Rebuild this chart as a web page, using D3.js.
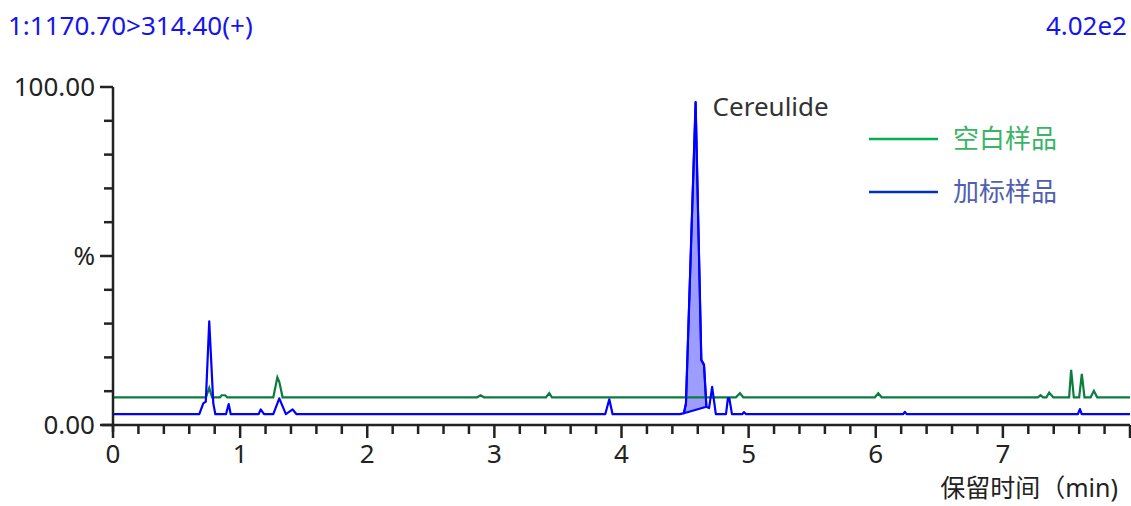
<!DOCTYPE html>
<html>
<head>
<meta charset="utf-8">
<script src="https://cdn.jsdelivr.net/npm/d3@7"></script>
<style>
  html, body { margin: 0; padding: 0; background: #fff; }
  svg text { font-family: "Noto Sans", "Noto Sans CJK SC", sans-serif; }
</style>
</head>
<body>
<div id="chart"></div>
<script>
// chromatogram traces, [time (min), relative intensity (%)]
const blankSample = [
  [0, 8.2], [0.731, 8.2], [0.757, 11.0], [0.779, 8.2], [0.842, 8.2], [0.855, 8.8],
  [0.881, 8.8], [0.899, 8.2], [1.261, 8.2], [1.293, 14.1], [1.308, 12.8], [1.334, 8.2],
  [2.865, 8.2], [2.892, 8.8], [2.918, 8.2], [3.406, 8.2], [3.432, 9.4], [3.453, 8.2],
  [4.900, 8.2], [4.932, 9.4], [4.958, 8.2], [5.993, 8.2], [6.020, 9.4], [6.046, 8.2],
  [7.275, 8.2], [7.296, 8.8], [7.317, 8.2], [7.343, 8.2], [7.364, 9.6], [7.396, 8.2],
  [7.521, 8.2], [7.537, 16.3], [7.558, 8.2], [7.600, 8.2], [7.621, 15.1], [7.642, 8.2],
  [7.690, 8.2], [7.716, 10.1], [7.742, 8.2], [8, 8.2]
];
const spikedSample = [
  [0, 3.2], [0.679, 3.2], [0.710, 6.4], [0.730, 6.9], [0.757, 30.7], [0.789, 6.4],
  [0.805, 3.2], [0.889, 3.2], [0.910, 6.2], [0.926, 3.2], [1.146, 3.2], [1.162, 4.6],
  [1.188, 3.2], [1.261, 3.2], [1.308, 7.9], [1.360, 3.2], [1.413, 4.6], [1.444, 3.2],
  [3.872, 3.2], [3.904, 7.6], [3.930, 3.2], [4.460, 3.2], [4.491, 3.5], [4.507, 6.4],
  [4.583, 95.5], [4.628, 19.2], [4.649, 17.8], [4.668, 5.4], [4.689, 5.0], [4.713, 11.3],
  [4.742, 3.2], [4.822, 3.2], [4.837, 7.9], [4.848, 7.9], [4.869, 3.2], [4.950, 3.2],
  [4.963, 3.8], [4.980, 3.2], [6.216, 3.2], [6.229, 3.9], [6.243, 3.2], [7.590, 3.2],
  [7.606, 4.7], [7.620, 3.2], [8, 3.2]
];
// integrated peak window (min)
const peakWindow = [4.491, 4.668];
const peakName = "Cereulide";

const seriesNames = ["空白样品", "加标样品"];
const xTickValues = [0, 1, 2, 3, 4, 5, 6, 7];
const yTickLabels = [[0, "0.00"], [50, "%"], [100, "100.00"]];
const titleLeft = "1:1170.70>314.40(+)";
const titleRight = "4.02e2";
const xAxisTitle = "保留时间（min)";

const width = 1131, height = 506;
const plot = {left: 113, right: 1130, top: 87, bottom: 425};
const axisColor = "#222";
const greenLine = "#0a7d3e", blueLine = "#0000ff";
const fontSize = "26px";

const svg = d3.select("#chart").append("svg")
  .attr("width", width)
  .attr("height", height);

const x = d3.scaleLinear().domain([0, 8]).range([plot.left, plot.right]);
const y = d3.scaleLinear().domain([0, 100]).range([plot.bottom, plot.top]);

// header
svg.append("text")
  .attr("x", 8).attr("y", 35)
  .attr("fill", "#1414f0")
  .style("font-size", fontSize)
  .text(titleLeft);

svg.append("text")
  .attr("x", 1127).attr("y", 35)
  .attr("text-anchor", "end")
  .attr("fill", "#1414f0")
  .style("font-size", fontSize)
  .text(titleRight);

// traces
const line = d3.line().x(d => x(d[0])).y(d => y(d[1]));

const peakPts = spikedSample.filter(d => d[0] >= peakWindow[0] && d[0] <= peakWindow[1]);
svg.append("path")
  .attr("d", line(peakPts) + "Z")
  .attr("fill", "#9d9dff")
  .attr("stroke", blueLine)
  .attr("stroke-width", 2)
  .attr("stroke-linejoin", "round");

svg.append("path")
  .datum(blankSample)
  .attr("d", line)
  .attr("fill", "none")
  .attr("stroke", greenLine)
  .attr("stroke-width", 2.2);

svg.append("path")
  .datum(spikedSample)
  .attr("d", line)
  .attr("fill", "none")
  .attr("stroke", blueLine)
  .attr("stroke-width", 2.2)
  .attr("stroke-linejoin", "round");

// peak label
const apex = d3.greatest(peakPts, d => d[1]);
svg.append("text")
  .attr("x", x(apex[0]) + 17)
  .attr("y", y(apex[1]) + 14)
  .attr("fill", "#333")
  .style("font-size", fontSize)
  .text(peakName);

// axes
const axes = svg.append("g");
axes.append("line")
  .attr("x1", plot.left).attr("x2", plot.left)
  .attr("y1", plot.top).attr("y2", plot.bottom + 7)
  .attr("stroke", axisColor).attr("stroke-width", 2.5);
axes.append("line")
  .attr("x1", plot.left - 11).attr("x2", plot.right)
  .attr("y1", plot.bottom).attr("y2", plot.bottom)
  .attr("stroke", axisColor).attr("stroke-width", 2.5);

// x ticks
const xMinor = d3.range(0, 8.001, 0.2);
axes.selectAll(".xtick")
  .data(xMinor)
  .enter().append("line")
  .attr("class", "xtick")
  .attr("x1", d => x(d)).attr("x2", d => x(d))
  .attr("y1", plot.bottom)
  .attr("y2", d => Math.abs(d - Math.round(d)) < 1e-6 ? plot.bottom + 13 : plot.bottom + 9)
  .attr("stroke", axisColor).attr("stroke-width", 2.5);

axes.selectAll(".xlabel")
  .data(xTickValues)
  .enter().append("text")
  .attr("class", "xlabel")
  .attr("x", d => x(d))
  .attr("y", 463)
  .attr("text-anchor", "middle")
  .attr("fill", axisColor)
  .style("font-size", fontSize)
  .text(d => d);

// y ticks
const yMinor = d3.range(0, 100.001, 10);
axes.selectAll(".ytick")
  .data(yMinor)
  .enter().append("line")
  .attr("class", "ytick")
  .attr("y1", d => y(d)).attr("y2", d => y(d))
  .attr("x1", d => d % 50 === 0 ? plot.left - 13 : plot.left - 9)
  .attr("x2", plot.left)
  .attr("stroke", axisColor).attr("stroke-width", 2.5);

axes.selectAll(".ylabel")
  .data(yTickLabels)
  .enter().append("text")
  .attr("class", "ylabel")
  .attr("x", 95)
  .attr("y", d => y(d[0]))
  .attr("dy", "0.35em")
  .attr("text-anchor", "end")
  .attr("fill", axisColor)
  .style("font-size", fontSize)
  .text(d => d[1]);

svg.append("text")
  .attr("x", 1118).attr("y", 497)
  .attr("text-anchor", "end")
  .attr("fill", axisColor)
  .style("font-size", "25px")
  .text(xAxisTitle);

// legend
const legendColors = [["#00b050", "#3ab465"], ["#0030c8", "#5060b0"]];
const legend = svg.selectAll(".legend")
  .data(seriesNames)
  .enter().append("g")
  .attr("class", "legend")
  .attr("transform", (d, i) => `translate(869, ${139 + i * 53})`);

legend.append("line")
  .attr("x1", 0).attr("x2", 69)
  .attr("stroke", (d, i) => legendColors[i][0])
  .attr("stroke-width", 2.5);

legend.append("text")
  .attr("x", 84)
  .attr("dy", "0.35em")
  .attr("fill", (d, i) => legendColors[i][1])
  .style("font-size", fontSize)
  .text(d => d);
</script>
</body>
</html>
